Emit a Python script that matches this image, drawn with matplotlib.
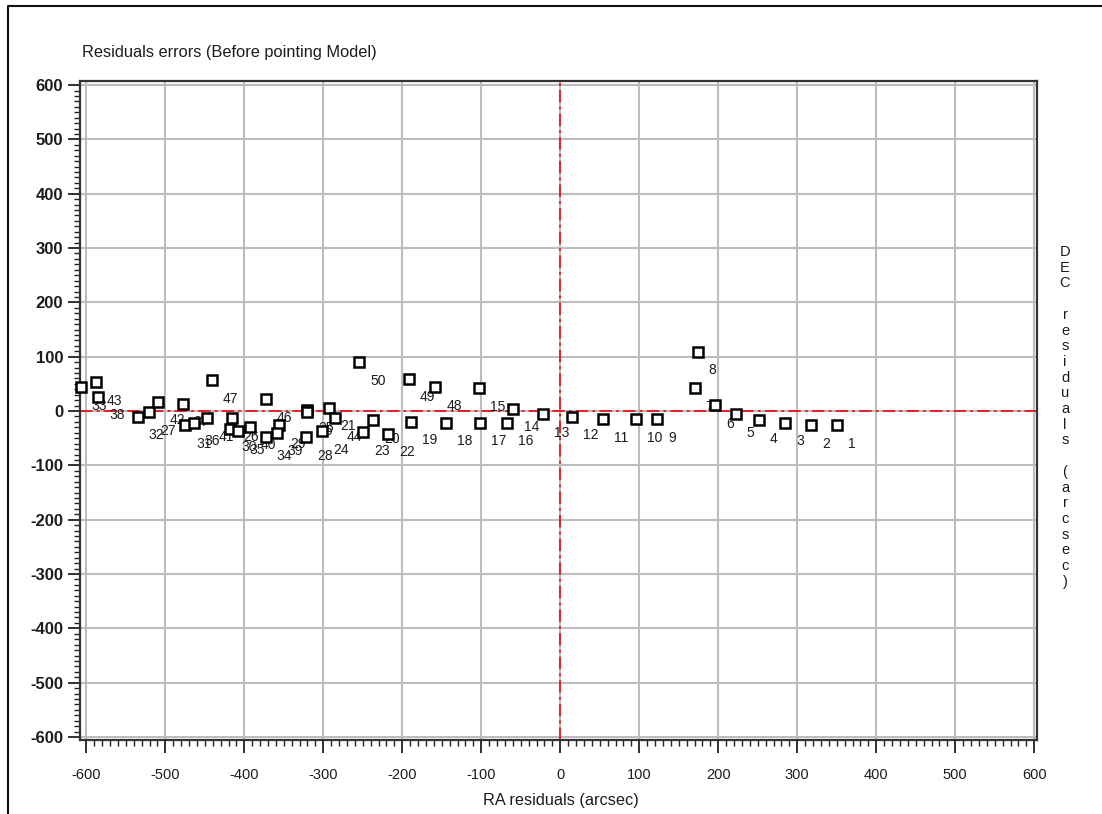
import matplotlib
matplotlib.use("Agg")
import matplotlib.pyplot as plt
from matplotlib.lines import Line2D
from matplotlib.ticker import MultipleLocator

# --- data (arcsec) ---
point_ids = list(range(1, 51))
ra_resid = [350, 318, 285, 251, 222, 196, 170, 174, 123, 96,
            54, 15, -22, -60, -103, -68, -102, -145, -189, -237,
            -293, -218, -250, -302, -321, -415, -521, -322, -356, -418,
            -475, -535, -607, -373, -408, -464, -478, -585, -359, -393,
            -447, -509, -588, -285, -321, -373, -441, -158, -192, -255]
dec_resid = [-26, -26, -22, -17, -6, 11, 42, 109, -15, -15,
             -15, -11, -6, 4, 42, -22, -22, -22, -20, -17,
             6, -42, -39, -37, 2, -13, -2, -48, -26, -33,
             -26, -11, 44, -48, -37, -22, 13, 26, -40, -29,
             -13, 17, 53, -13, -2, 22, 57, 44, 59, 90]

title = "Residuals errors (Before pointing Model)"
x_label = "RA residuals (arcsec)"
y_label = "DEC residuals (arcsec)"

W, H = 1102, 814
plt.rcParams['font.family'] = ['Liberation Sans', 'DejaVu Sans']
plt.rcParams['lines.scale_dashes'] = False
plt.rcParams['axes.unicode_minus'] = False
TXT = '#1c1c1c'

fig = plt.figure(figsize=(W / 100, H / 100), dpi=100)
ax = fig.add_axes([80 / W, 1 - 740 / H, (1037 - 80) / W, (740 - 81) / H])

ax.set_xlim(-608, 603.5)
ax.set_ylim(-605.5, 607.5)

ax.xaxis.set_major_locator(MultipleLocator(100))
ax.xaxis.set_minor_locator(MultipleLocator(10))
ax.yaxis.set_major_locator(MultipleLocator(100))
ax.yaxis.set_minor_locator(MultipleLocator(10))
ax.grid(True, which='major', color='#bdbdbd', linewidth=1.5, zorder=0)
ax.set_axisbelow(True)

ax.tick_params(which='major', direction='out', length=9, width=1.3, color='#202020',
               top=False, right=False, labelcolor=TXT)
ax.tick_params(which='minor', direction='out', length=4.5, width=1.0, color='#202020',
               top=False, right=False)
ax.tick_params(axis='x', labelsize=10.5, pad=11)
ax.tick_params(axis='y', labelsize=12, pad=3)
for lbl in ax.get_yticklabels():
    lbl.set_fontweight('bold')

for side in ['left', 'right', 'top', 'bottom']:
    ax.spines[side].set_color('#333333')
    ax.spines[side].set_linewidth(1.6)

# zero lines
ax.axhline(0, color='#e8141e', linewidth=1.3, dashes=(9, 3, 2, 3), zorder=2)
ax.axvline(0, color='#e8141e', linewidth=1.3, dashes=(9, 3, 2, 3), zorder=2)

ax.plot(ra_resid, dec_resid, linestyle='none', marker='s', markersize=7,
        markerfacecolor='white', markeredgecolor='black', markeredgewidth=1.8,
        zorder=4, clip_on=False)

for pid, x, y in zip(point_ids, ra_resid, dec_resid):
    ax.annotate(str(pid), (x, y), xytext=(8, -13.3), textcoords='offset points',
                ha='left', va='center', fontsize=10, color=TXT, zorder=3)

fig.text(82 / W, 1 - 53 / H, title, ha='left', va='center', fontsize=11.8, color=TXT)
fig.text(561 / W, 1 - 800 / H, x_label, ha='center', va='center', fontsize=11.7, color=TXT)

# vertical label, one character per line
for i, ch in enumerate(y_label):
    fig.text(1065 / W, 1 - (252 + i * 15.7) / H, ch, ha='center', va='center',
             fontsize=10.5, color=TXT)

# outer frame (left and top edges only)
fig.add_artist(Line2D([8 / W, 8 / W, 1.0], [0.0, 1 - 6 / H, 1 - 6 / H],
                      transform=fig.transFigure, color='#111111', linewidth=1.5))

fig.savefig('out.png', dpi=100, facecolor='white')
